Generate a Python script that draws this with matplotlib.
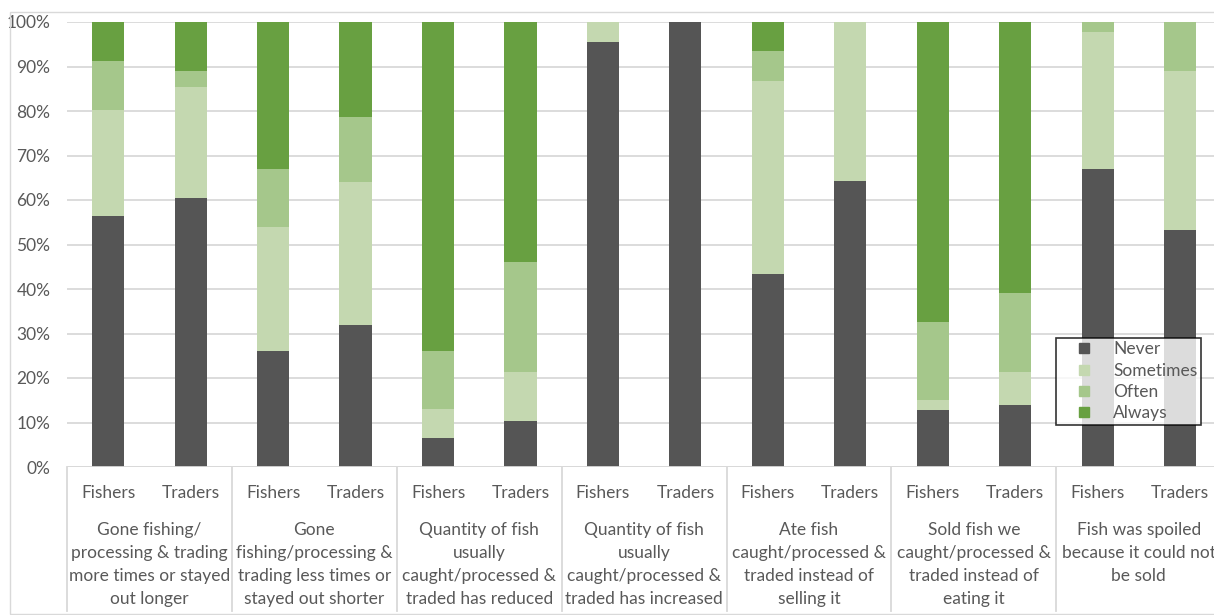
import matplotlib
matplotlib.use("Agg")
import matplotlib.pyplot as plt
from matplotlib.lines import Line2D
from matplotlib.patches import Rectangle
import numpy as np

plt.rcParams['font.family'] = ['Lato', 'DejaVu Sans']

groups = ["Gone fishing/\nprocessing & trading\nmore times or stayed\nout longer",
          "Gone\nfishing/processing &\ntrading less times or\nstayed out shorter",
          "Quantity of fish\nusually\ncaught/processed &\ntraded has reduced",
          "Quantity of fish\nusually\ncaught/processed &\ntraded has increased",
          "Ate fish\ncaught/processed &\ntraded instead of\nselling it",
          "Sold fish we\ncaught/processed &\ntraded instead of\neating it",
          "Fish was spoiled\nbecause it could not\nbe sold"]
who = ["Fishers", "Traders"]

never     = [56.5, 60.4, 26.0, 32.0,  6.5, 10.3, 95.6, 100.0, 43.3, 64.3, 12.9, 13.9, 67.0, 53.3]
sometimes = [23.7, 25.1, 28.0, 32.0,  6.5, 11.0,  4.4,   0.0, 43.4, 35.7,  2.2,  7.4, 30.7, 35.8]
often     = [11.0,  3.6, 13.0, 14.6, 13.0, 24.8,  0.0,   0.0,  6.7,  0.0, 17.4, 17.7,  2.3, 10.9]
always    = [ 8.8, 10.9, 33.0, 21.4, 74.0, 53.9,  0.0,   0.0,  6.6,  0.0, 67.5, 61.0,  0.0,  0.0]

series = ["Never", "Sometimes", "Often", "Always"]
colors = ["#555555", "#c4d8b0", "#a5c78b", "#68a041"]
txt = "#595959"
grid = "#d9d9d9"

W, H = 1214, 615
fig = plt.figure(figsize=(W / 100, H / 100), dpi=100)
# axes spans pixel x 67..1214, y 22..467
ax = fig.add_axes([67 / W, 1 - 467 / H, (W - 67) / W, 445 / H])

x = np.arange(len(never))
bottom = np.zeros(len(never))
for name, vals, c in zip(series, [never, sometimes, often, always], colors):
    ax.bar(x, vals, 0.39, bottom=bottom, color=c, label=name, zorder=3)
    bottom += np.array(vals)

slot = 164.9 / 2
ax.set_xlim(-0.5, -0.5 + (W - 67) / slot)
ax.set_ylim(0, 100)
ax.set_yticks(range(0, 101, 10))
ax.set_yticklabels([f"{v}%" for v in range(0, 101, 10)], color=txt, fontsize=12.5)
ax.tick_params(axis='y', length=0, pad=12)
ax.set_xticks([])
ax.yaxis.grid(True, color=grid, lw=1.3, zorder=0)
for s in ax.spines.values():
    s.set_visible(False)
ax.axhline(0, color=grid, lw=1.3, zorder=4)

def ypx(p):
    return (467 - p) / 445

tr = ax.get_xaxis_transform()
for i in range(len(never)):
    ax.text(i, ypx(498), who[i % 2], transform=tr, ha='center', va='baseline',
            color=txt, fontsize=12.5)
for g, lab in enumerate(groups):
    for k, line in enumerate(lab.split("\n")):
        ax.text(2 * g + 0.5, ypx(535 + 23 * k), line, transform=tr, ha='center',
                va='baseline', color=txt, fontsize=12.5)
for g in range(len(groups) + 1):
    ax.plot([2 * g - 0.5, 2 * g - 0.5], [0, ypx(611)], transform=tr, color=grid,
            lw=1.3, clip_on=False)

handles = [Line2D([], [], marker='s', ls='none', color=c, markersize=7.5) for c in colors]
leg = ax.legend(handles, series, loc='upper left',
                bbox_to_anchor=(1056 / W, 1 - 338 / H), bbox_transform=fig.transFigure,
                fontsize=12.5, frameon=True, fancybox=False, borderpad=0.2,
                labelspacing=0.3, handletextpad=0.3, handlelength=2.8,
                borderaxespad=0)
leg.get_frame().set_edgecolor("black")
leg.get_frame().set_linewidth(1.2)
for t in leg.get_texts():
    t.set_color(txt)

fig.patches.append(Rectangle((10 / W, 1 / H), 1.2, 1 - 13 / H, transform=fig.transFigure,
                             fill=False, edgecolor=grid, lw=1, figure=fig))

fig.savefig("out.png", dpi=100)
